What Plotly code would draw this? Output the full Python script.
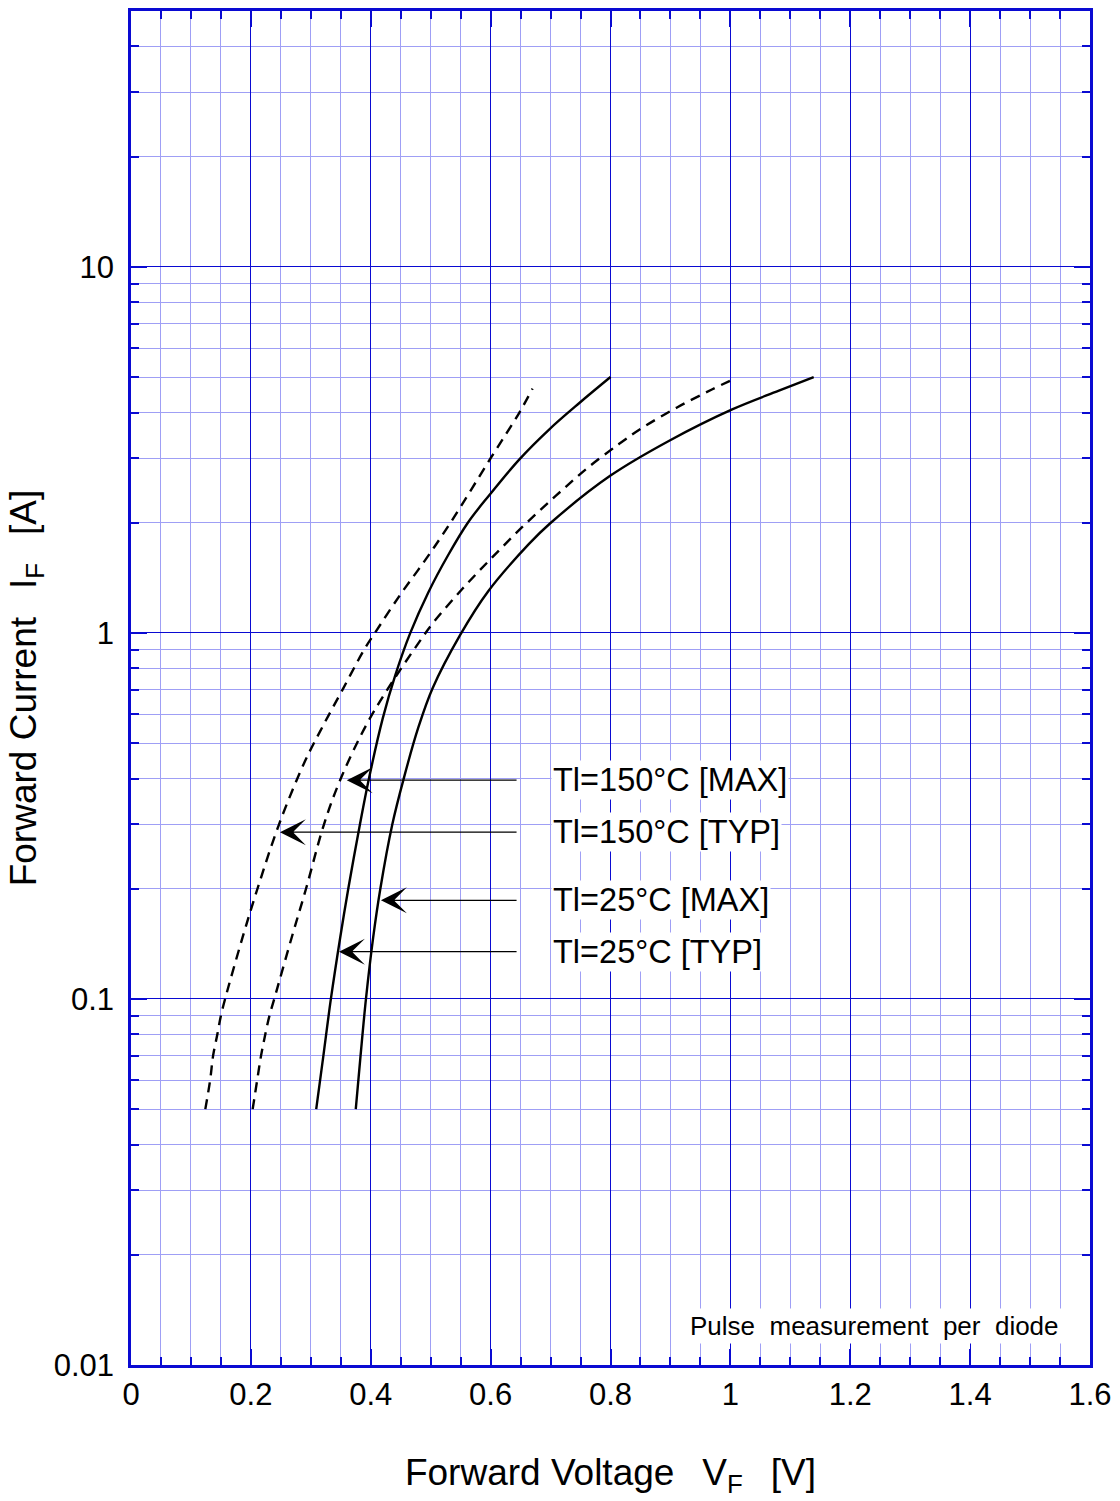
import numpy as np
import plotly.graph_objects as go

# ---------------- data ----------------
vf_150_typ = [0.124, 0.132, 0.137, 0.144, 0.150, 0.157, 0.186, 0.211, 0.247, 0.290, 0.320, 0.353,
              0.389, 0.407, 0.449, 0.492, 0.533, 0.600, 0.648, 0.670]
if_150_typ = [0.05, 0.06, 0.07, 0.08, 0.09, 0.1, 0.147, 0.2, 0.3, 0.445, 0.556, 0.7,
              0.9, 1.0, 1.27, 1.59, 2.0, 3.0, 4.0, 4.65]

vf_150_max = [0.203, 0.2105, 0.217, 0.224, 0.231, 0.239, 0.268, 0.292, 0.322, 0.350, 0.394, 0.436,
              0.481, 0.503, 0.553, 0.603, 0.656, 0.709, 0.759, 0.814, 0.854, 0.911, 0.970, 1.007]
if_150_max = [0.05, 0.06, 0.07, 0.08, 0.09, 0.1, 0.147, 0.2, 0.3, 0.4, 0.566, 0.735,
              0.945, 1.06, 1.32, 1.61, 1.97, 2.37, 2.8, 3.28, 3.64, 4.13, 4.63, 4.95]

vf_25_typ = [0.309, 0.321, 0.3335, 0.349, 0.3625, 0.382, 0.397, 0.420, 0.441,
             0.466, 0.496, 0.529, 0.562, 0.597, 0.648, 0.698, 0.749, 0.800]
if_25_typ = [0.05, 0.07, 0.1, 0.147, 0.2, 0.3, 0.4, 0.584, 0.767,
             1.0, 1.29, 1.63, 2.0, 2.37, 2.98, 3.6, 4.26, 5.0]

vf_25_max = [0.375, 0.383, 0.392, 0.404, 0.416, 0.436, 0.455, 0.479, 0.503,
             0.549, 0.596, 0.664, 0.699, 0.800, 0.898, 1.003, 1.081, 1.139]
if_25_max = [0.05, 0.07, 0.1, 0.147, 0.2, 0.3, 0.4, 0.549, 0.705,
             0.986, 1.3, 1.75, 1.99, 2.69, 3.35, 4.08, 4.59, 5.0]

label_texts = ["Tl=150°C [MAX]", "Tl=150°C [TYP]", "Tl=25°C [MAX]", "Tl=25°C [TYP]"]
label_if = [0.396, 0.2855, 0.186, 0.1346]
arrow_tip_vf = [0.360, 0.2485, 0.417, 0.347]
label_vf = 0.700

x_ticks = [0, 0.2, 0.4, 0.6, 0.8, 1.0, 1.2, 1.4, 1.6]
x_ticktext = ["0", "0.2", "0.4", "0.6", "0.8", "1", "1.2", "1.4", "1.6"]
y_ticks = [0.01, 0.1, 1, 10]
y_ticktext = ["0.01", "0.1", "1", "10"]
y_minor = [k * 10.0 ** d for d in range(-2, 2) for k in range(2, 10) if k * 10.0 ** d <= 50]

note_text = "Pulse\u00a0 measurement\u00a0 per\u00a0 diode"
note_vf, note_if = 1.241, 0.0128
GAP = "\u00a0\u00a0\u2009"
x_title = "Forward Voltage" + GAP + "V<sub>F</sub>" + GAP + "[V]"
y_title = "Forward Current" + GAP + "I<sub>F</sub>" + GAP + "[A]"

# ---------------- styling ----------------
DARK = "#0a0ad2"
LIGHT = "#9f9ff5"
FONT = "Liberation Sans, Arial, sans-serif"

fig = go.Figure()

series = [
    (vf_150_typ, if_150_typ, "dash"),
    (vf_150_max, if_150_max, "dash"),
    (vf_25_typ, if_25_typ, "solid"),
    (vf_25_max, if_25_max, "solid"),
]
for xs, ys, style in series:
    fig.add_trace(go.Scatter(
        x=xs, y=ys, mode="lines",
        line=dict(color="black", width=2.4, shape="spline", smoothing=1.0,
                  dash="10px,7px" if style == "dash" else "solid"),
        showlegend=False, hoverinfo="skip",
    ))

# labels with arrows pointing to the curves
for txt, tip, yv in zip(label_texts, arrow_tip_vf, label_if):
    fig.add_annotation(
        x=tip, y=np.log10(yv), ax=label_vf, ay=np.log10(yv),
        xref="x", yref="y", axref="x", ayref="y",
        text=txt, showarrow=True, arrowhead=3, arrowsize=3.6, arrowwidth=1.2,
        arrowcolor="black", startstandoff=34,
        xanchor="left", yanchor="middle",
        font=dict(family=FONT, size=32.5, color="black"),
        bgcolor="white", borderpad=1,
    )

fig.add_annotation(
    x=note_vf, y=np.log10(note_if), xref="x", yref="y",
    text=note_text, showarrow=False, xanchor="center", yanchor="middle",
    font=dict(family=FONT, size=26, color="black"),
    bgcolor="white", borderpad=2,
)

fig.update_xaxes(
    range=[0, 1.6], tickmode="array", tickvals=x_ticks, ticktext=x_ticktext,
    showgrid=True, gridcolor=DARK, gridwidth=1,
    showline=True, linecolor=DARK, linewidth=2.5, mirror="ticks",
    ticks="inside", ticklen=16, tickwidth=1.5, tickcolor=DARK,
    tickfont=dict(family=FONT, size=31, color="black"),
    ticklabelstandoff=0,
    minor=dict(dtick=0.05, tick0=0, showgrid=True, gridcolor=LIGHT, gridwidth=1,
               ticks="inside", ticklen=8, tickwidth=1.5, tickcolor=DARK),
    zeroline=False,
    title=dict(text=x_title, font=dict(family=FONT, size=37, color="black"), standoff=49),
)
fig.update_yaxes(
    type="log", range=[-2, np.log10(50)], tickmode="array", tickvals=y_ticks, ticktext=y_ticktext,
    showgrid=True, gridcolor=DARK, gridwidth=1,
    showline=True, linecolor=DARK, linewidth=2.5, mirror="ticks",
    ticks="inside", ticklen=16, tickwidth=1.5, tickcolor=DARK,
    tickfont=dict(family=FONT, size=31, color="black"),
    ticklabelstandoff=8,
    minor=dict(tickmode="array", tickvals=y_minor, showgrid=True, gridcolor=LIGHT, gridwidth=1,
               ticks="inside", ticklen=8, tickwidth=1.5, tickcolor=DARK),
    zeroline=False,
    title=dict(text=y_title, font=dict(family=FONT, size=37, color="black"), standoff=6),
)

fig.update_layout(
    width=1120, height=1501,
    margin=dict(l=131, r=30, t=8, b=136),
    paper_bgcolor="white", plot_bgcolor="white",
    showlegend=False,
)

fig.write_html("out.html", config={"displayModeBar": False},
               post_script="document.body.style.margin='0';")
